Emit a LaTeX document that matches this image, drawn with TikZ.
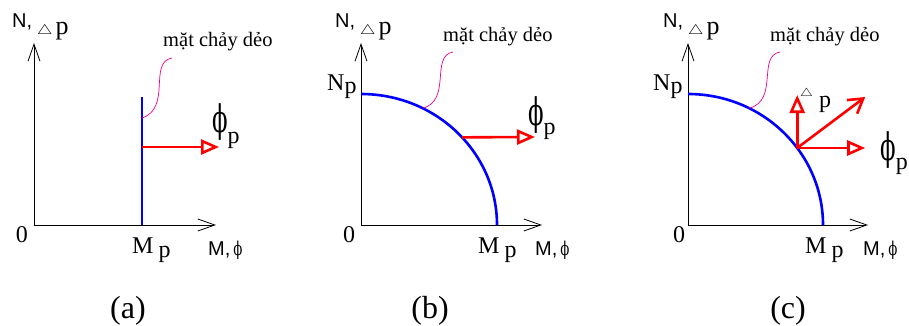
\documentclass[tikz,border=0pt]{standalone}
\usepackage{fontspec}
\setmainfont{Liberation Serif}
\setsansfont{Liberation Sans}
\newfontfamily\phifont{DejaVu Serif}
\usetikzlibrary{arrows.meta,calc}

\newcommand\fs[1]{\fontsize{#1}{#1}\selectfont}
\newcommand\lowp[1]{\raisebox{-#1pt}{p}}
\newcommand\bigphi{\scalebox{0.6}[1]{\phifont\fs{38}ϕ}}
\newcommand\smallphi{\scalebox{0.7}[1]{\phifont\fs{19}ϕ}}
\newcommand\trig[1]{\scalebox{1}[0.8]{\fs{#1}$\triangle$}}
\newcommand\axN{\raisebox{7pt}{\sffamily\fs{20}N,}\hspace{5pt}\trig{19}\hspace{3pt}{\fs{26}p}}
\newcommand\axM{{\sffamily\fs{20}M,}\hspace{3pt}\smallphi}
\newcommand\yieldtxt{{\fs{20.5}mặt chảy dẻo}}

\begin{document}
\begin{tikzpicture}[
  x=1pt, y=-1pt,
  axisline/.style={line width=0.8pt,-{Straight Barb[length=17pt,width=12pt]}},
  surf/.style={blue,line width=2.6pt},
  flow/.style={red,line width=2.6pt,-{Triangle[open,length=18pt,width=15pt]}},
  flowv/.style={red,line width=2.6pt,-{Straight Barb[length=14pt,width=17pt]}},
  lead/.style={magenta,line width=0.7pt},
  lbl/.style={inner sep=0pt,anchor=base west,font=\fs{24}}
]
  \useasboundingbox (0,0) rectangle (909,326);

  % (a)
  \coordinate (oa) at (34,225);
  \coordinate (ya) at (34,43);
  \coordinate (xa) at (216,225);
  \coordinate (ba) at (142,225);
  \coordinate (ta) at (142,97);
  \coordinate (pa) at (142,147);
  \coordinate (ra) at (219,147);
  \coordinate (ea) at (142,118);
  \coordinate (sa) at (172,58);
  \draw[axisline] (oa) -- (ya);
  \draw[axisline] (oa) -- (xa);
  \draw[surf] (ba) -- (ta);
  \draw[flow] (pa) -- (ra);
  \draw[lead] (sa) .. controls (148,62) and (172,108) .. (ea);
  \node[lbl] (na) at (12,35) {\axN};
  \node[lbl] (ma) at (208,255) {\axM};
  \node[lbl,anchor=base] (za) at (22,242) {0};
  \node[lbl] (mpa) at (132,253) {M\hspace{5pt}\lowp{4}};
  \node[lbl] (fa) at (212,132) {\bigphi\lowp{11}};
  \node[lbl] (ya-txt) at (163,47) {\yieldtxt};
  \node[lbl,anchor=center,font=\fs{32}] (capa) at (128,311) {(a)};

  % (b)
  \coordinate (ob) at (361,225);
  \coordinate (yb) at (361,43);
  \coordinate (xb) at (542,225);
  \coordinate (nb) at (361,94);
  \coordinate (pb) at ($(ob)+(-42:136 and 131)$);
  \coordinate (rb) at (535,137);
  \coordinate (eb) at ($(ob)+(-63:136 and 131)$);
  \coordinate (sb) at (453,52);
  \draw[axisline] (ob) -- (yb);
  \draw[axisline] (ob) -- (xb);
  \draw[surf] (nb) arc[start angle=-90,end angle=0,x radius=136,y radius=131];
  \draw[flow] (pb) -- (rb);
  \draw[lead] (sb) .. controls (430,56) and (452,100) .. (eb);
  \node[lbl] (nab) at (335,35) {\axN};
  \node[lbl] (mb) at (535,255) {\axM};
  \node[lbl,anchor=base] (zb) at (349,242) {0};
  \node[lbl] (npb) at (327,91) {N\lowp{3}};
  \node[lbl] (mpb) at (478,253) {M\hspace{5pt}\lowp{4}};
  \node[lbl] (fb) at (528,125) {\bigphi\lowp{9}};
  \node[lbl] (yb-txt) at (443,42) {\yieldtxt};
  \node[lbl,anchor=center,font=\fs{32}] (capb) at (430,311) {(b)};

  % (c)
  \coordinate (oc) at (688,225);
  \coordinate (yc) at (688,43);
  \coordinate (xc) at (868,225);
  \coordinate (nc) at (688,94);
  \coordinate (pc) at ($(oc)+(-36:135 and 131)$);
  \coordinate (uc) at ($(pc)+(0,-53)$);
  \coordinate (rc) at ($(pc)+(68,0)$);
  \coordinate (qc) at ($(pc)+(68,-51)$);
  \coordinate (ec) at ($(oc)+(-63:135 and 131)$);
  \coordinate (sc) at (780,52);
  \draw[axisline] (oc) -- (yc);
  \draw[axisline] (oc) -- (xc);
  \draw[surf] (nc) arc[start angle=-90,end angle=0,x radius=135,y radius=131];
  \draw[flow] (pc) -- (uc);
  \draw[flow] (pc) -- (rc);
  \draw[flowv] (pc) -- (qc);
  \draw[lead] (sc) .. controls (757,56) and (779,100) .. (ec);
  \node[lbl] (nac) at (663,35) {\axN};
  \node[lbl] (mc) at (863,255) {\axM};
  \node[lbl,anchor=base] (zc) at (679,242) {0};
  \node[lbl] (npc) at (653,91) {N\lowp{3}};
  \node[lbl] (mpc) at (805,253) {M\hspace{5pt}\lowp{4}};
  \node[lbl] (fc) at (880,160) {\bigphi\lowp{9}};
  \node[lbl] (dc) at (800,97) {\trig{15}\hspace{6pt}\lowp{10}};
  \node[lbl] (yc-txt) at (770,42) {\yieldtxt};
  \node[lbl,anchor=center,font=\fs{32}] (capc) at (788,311) {(c)};
\end{tikzpicture}
\end{document}
